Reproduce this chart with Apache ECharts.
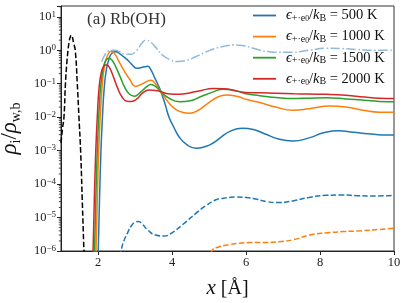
<!DOCTYPE html>
<html><head><meta charset="utf-8">
<script src="https://cdn.jsdelivr.net/npm/echarts@6/dist/echarts.min.js"></script>
<style>html,body{margin:0;padding:0;background:#fff}#c{width:407px;height:303px}</style>
</head><body><div id="c"></div>
<script>
// ---- data ----
const xTicks = [2, 4, 6, 8, 10];
const yMinorTicks = [2e-6,3e-6,4e-6,5e-6,6e-6,7e-6,8e-6,9e-6,
  2e-5,3e-5,4e-5,5e-5,6e-5,7e-5,8e-5,9e-5,
  2e-4,3e-4,4e-4,5e-4,6e-4,7e-4,8e-4,9e-4,
  2e-3,3e-3,4e-3,5e-3,6e-3,7e-3,8e-3,9e-3,
  2e-2,3e-2,4e-2,5e-2,6e-2,7e-2,8e-2,9e-2,
  0.2,0.3,0.4,0.5,0.6,0.7,0.8,0.9,
  2,3,4,5,6,7,8,9,20];
const legendTemps = ['500 K', '1000 K', '1500 K', '2000 K'];

const x500 = [2.00,2.04,2.08,2.12,2.17,2.23,2.30,2.38,2.48,2.58,2.70,2.84,2.96,3.05,3.15,3.25,3.34,3.43,3.52,3.61,3.70,3.81,3.92,4.05,4.19,4.40,4.65,4.90,5.10,5.30,5.55,5.90,6.20,6.50,6.90,7.27,7.70,8.10,8.50,8.90,9.30,9.70,10.0];
const y500 = [5e-7,3.2e-5,1e-3,1e-2,7.9e-2,0.28,0.56,0.83,0.90,0.79,0.63,0.46,0.33,0.29,0.30,0.32,0.33,0.26,0.16,0.10,5.8e-2,2.5e-2,1.0e-2,5.0e-3,2.6e-3,1.5e-3,1.17e-3,1.32e-3,1.66e-3,2.4e-3,3.7e-3,4.7e-3,4.3e-3,3.2e-3,2.2e-3,1.95e-3,2.4e-3,3.4e-3,3.9e-3,3.55e-3,3.2e-3,2.95e-3,2.95e-3];

const x1000 = [1.94,1.98,2.02,2.06,2.11,2.17,2.24,2.30,2.36,2.45,2.55,2.70,2.84,3.02,3.20,3.43,3.55,3.70,3.90,4.10,4.30,4.47,4.70,4.95,5.20,5.46,5.75,6.05,6.37,6.80,7.27,7.70,8.26,8.70,9.20,9.60,10.0];
const y1000 = [5e-7,3.2e-5,1e-3,1e-2,7.9e-2,0.32,0.63,0.85,0.93,0.79,0.50,0.25,0.145,8.3e-2,0.10,0.126,0.10,5.8e-2,2.8e-2,1.7e-2,1.38e-2,1.32e-2,1.58e-2,2.5e-2,3.8e-2,4.6e-2,4.2e-2,3.3e-2,2.75e-2,2.0e-2,1.62e-2,1.78e-2,2.14e-2,2.0e-2,1.58e-2,1.41e-2,1.41e-2];

const x1500 = [1.90,1.94,1.98,2.02,2.07,2.13,2.19,2.25,2.30,2.38,2.48,2.60,2.72,2.84,2.98,3.15,3.30,3.43,3.55,3.70,3.90,4.20,4.50,4.80,5.10,5.37,5.70,6.00,6.37,6.80,7.27,7.70,8.17,8.70,9.20,9.60,10.0];
const y1500 = [5e-7,3.2e-5,1e-3,1e-2,7.9e-2,0.25,0.45,0.55,0.575,0.50,0.32,0.16,7.9e-2,5.0e-2,4.2e-2,5.6e-2,7.9e-2,9.5e-2,8.3e-2,5.8e-2,3.8e-2,2.9e-2,3.1e-2,4.2e-2,5.6e-2,6.8e-2,6.3e-2,5.0e-2,4.4e-2,3.9e-2,3.6e-2,3.7e-2,3.8e-2,3.5e-2,3.2e-2,2.95e-2,2.9e-2];

const x2000 = [1.86,1.90,1.94,1.98,2.03,2.09,2.15,2.20,2.24,2.30,2.40,2.52,2.65,2.78,2.90,3.05,3.20,3.38,3.55,3.70,3.90,4.20,4.50,4.80,5.10,5.40,5.75,6.10,6.37,6.80,7.30,7.70,8.17,8.70,9.20,9.60,10.0];
const y2000 = [5e-7,3.2e-5,1e-3,1e-2,7.9e-2,0.22,0.33,0.36,0.36,0.32,0.18,7.9e-2,4.0e-2,3.0e-2,2.95e-2,3.5e-2,5.2e-2,6.5e-2,6.3e-2,5.8e-2,5.0e-2,4.8e-2,5.4e-2,6.3e-2,7.2e-2,7.1e-2,6.0e-2,5.4e-2,5.4e-2,5.2e-2,5.0e-2,4.9e-2,4.8e-2,4.5e-2,4.0e-2,3.7e-2,3.6e-2];

const xBulk = [2.10,2.18,2.26,2.35,2.45,2.60,2.75,2.90,3.05,3.18,3.29,3.40,3.55,3.74,3.95,4.15,4.40,4.65,4.90,5.19,5.45,5.64,5.90,6.18,6.37,6.60,6.90,7.27,7.70,8.17,8.60,9.00,9.50,10.0];
const yBulk = [0.45,0.71,0.91,1.0,1.0,0.89,0.76,0.76,1.0,1.58,2.0,1.82,1.26,0.72,0.52,0.46,0.50,0.65,0.87,1.15,1.35,1.43,1.38,1.17,1.01,0.91,0.87,0.87,1.0,1.15,1.12,1.05,1.0,1.01];

const xNeg500 = [2.55,2.62,2.70,2.80,2.90,3.00,3.10,3.20,3.35,3.55,3.79,4.00,4.30,4.65,4.90,5.19,5.40,5.55,5.73,6.00,6.30,6.55,6.90,7.30,7.70,8.17,8.60,9.00,9.50,10.0];
const yNeg500 = [4e-7,1e-6,2.0e-6,3.5e-6,5.6e-6,7.2e-6,7.6e-6,6.3e-6,4.2e-6,3.0e-6,2.8e-6,3.5e-6,6.3e-6,1.35e-5,2.2e-5,3.4e-5,3.8e-5,4.0e-5,4.1e-5,4.0e-5,3.5e-5,3.0e-5,2.8e-5,3.2e-5,4.0e-5,4.6e-5,4.7e-5,4.5e-5,4.4e-5,4.6e-5];

const xNeg1000 = [5.00,5.10,5.25,5.40,5.55,5.80,6.10,6.37,6.90,7.30,7.72,8.20,8.62,9.10,9.60,10.0];
const yNeg1000 = [5e-7,1.1e-6,1.3e-6,1.45e-6,1.55e-6,1.7e-6,1.78e-6,1.78e-6,1.9e-6,2.2e-6,3.0e-6,3.5e-6,3.8e-6,4.0e-6,4.4e-6,4.8e-6];

const xWater = [1.00,1.04,1.08,1.12,1.16,1.19,1.22,1.25,1.28,1.31,1.34,1.385,1.44,1.485,1.53,1.575,1.62,1.64];
const yWater = [1.7e-3,4.5e-3,1e-2,0.1,0.45,1.0,1.8,2.5,2.8,2.4,1.66,1.0,0.1,1e-2,1e-3,3.2e-5,1e-6,3e-7];

// ---- build ----
const pairs = (xs, ys) => xs.map((x, i) => [x, ys[i]]);
const FONT = 'Liberation Serif';
const C = {blue:'#1f77b4', orange:'#ff7f0e', green:'#2ca02c', red:'#d62728'};
function line(name, xs, ys, color, type, width) {
  return {
    name, type: 'line', data: pairs(xs, ys), symbol: 'none', showSymbol: false,
    smooth: 0.5, clip: true,
    lineStyle: {color, width: width || 1.5, type: type || 'solid'},
    itemStyle: {color}, emphasis: {disabled: true}, animation: false
  };
}

const chart = echarts.init(document.getElementById('c'), null, {renderer: 'canvas'});
chart.setOption({
  animation: false,
  backgroundColor: '#fff',
  grid: {left: 61, right: 13, top: 6, bottom: 52, outerBoundsMode: 'none', containLabel: false,
         show: true, borderColor: '#333', borderWidth: 1, backgroundColor: 'transparent'},
  xAxis: {
    type: 'value', min: 1, max: 10,
    axisLine: {lineStyle: {color: '#222', width: 1}},
    axisTick: {inside: false, length: 4, lineStyle: {color: '#222'}, customValues: xTicks},
    axisLabel: {customValues: xTicks, fontFamily: FONT, fontSize: 12.5, color: '#222', margin: 5},
    splitLine: {show: false},
    name: '{i|x}{n| [Å]}', nameLocation: 'middle', nameGap: 27,
    nameTextStyle: {rich: {i: {fontFamily: FONT, fontStyle: 'italic', fontSize: 21, color: '#111'},
                           n: {fontFamily: FONT, fontSize: 20, color: '#111'}}}
  },
  yAxis: {
    type: 'log', logBase: 10, min: 1e-6, max: 21,
    axisLine: {show: true, lineStyle: {color: '#222', width: 1}},
    axisTick: {show: true, inside: false, length: 4, lineStyle: {color: '#222'}},
    axisLabel: {
      interval: 0, showMinLabel: true, showMaxLabel: true, hideOverlap: false, margin: 5,
      formatter: v => {
        const l = Math.log10(v), e = Math.round(l);
        if (Math.abs(l - e) > 1e-6) return '';
        return '{b|10}{s|' + (e < 0 ? '\u2212' : '') + Math.abs(e) + '}';
      },
      rich: {b: {fontFamily: FONT, fontSize: 12.5, color: '#222', lineHeight: 14},
             s: {fontFamily: FONT, fontSize: 9, color: '#222', verticalAlign: 'top', lineHeight: 8}}
    },
    splitLine: {show: false},
    name: '{i|ρ}{s|i}{n|/}{i|ρ}{s|w,b}', nameLocation: 'middle', nameRotate: 90, nameGap: 33,
    nameTextStyle: {rich: {
      i: {fontFamily: FONT, fontStyle: 'italic', fontSize: 23, color: '#111', lineHeight: 26},
      n: {fontFamily: FONT, fontSize: 23, color: '#111', lineHeight: 26},
      s: {fontFamily: FONT, fontSize: 14, color: '#111', verticalAlign: 'bottom', lineHeight: 12}
    }}
  },
  legend: {
    data: legendTemps.map(n => ({name: n, icon: 'rect'})), orient: 'vertical', left: 253, top: 8,
    itemWidth: 23, itemHeight: 1.8, itemGap: 5.6, padding: 0,
    formatter: n => '{i|ϵ}{s|+·e}{ss|0}{n|/}{i|k}{s|B}{n| = ' + n + '}',
    textStyle: {padding: [0, 0, 0, 5], rich: {
      i: {fontFamily: FONT, fontStyle: 'italic', fontSize: 14.5, color: '#111', lineHeight: 16},
      n: {fontFamily: FONT, fontSize: 14.5, color: '#111', lineHeight: 16},
      s: {fontFamily: FONT, fontSize: 10, color: '#111', verticalAlign: 'bottom', lineHeight: 9},
      ss: {fontFamily: FONT, fontSize: 7.5, color: '#111', verticalAlign: 'bottom', lineHeight: 6}
    }}
  },
  graphic: [{type: 'text', left: 87, top: 11, style: {text: '(a) Rb(OH)', font: '17px "Liberation Serif"', fill: '#333'}}],
  series: [
    line('500 K', x500, y500, C.blue),
    line('1000 K', x1000, y1000, C.orange),
    line('1500 K', x1500, y1500, C.green),
    line('2000 K', x2000, y2000, C.red),
    line('bulk', xBulk, yBulk, 'rgba(31,119,180,0.5)', [9.6, 2.4, 1.5, 2.4]),
    line('neg500', xNeg500, yNeg500, C.blue, [5.5, 2.4]),
    line('neg1000', xNeg1000, yNeg1000, C.orange, [5.5, 2.4]),
    line('water', xWater, yWater, '#000', [5.5, 2.4]),
    {
      type: 'custom', name: 'minorTicks', data: yMinorTicks.map(v => [1, v]), clip: false, silent: true,
      renderItem: (params, api) => {
        const p = api.coord([api.value(0), api.value(1)]);
        return {type: 'line', shape: {x1: p[0] - 2.2, y1: p[1], x2: p[0], y2: p[1]},
                style: {stroke: '#222', lineWidth: 0.8}};
      }
    }
  ]
});
</script></body></html>
